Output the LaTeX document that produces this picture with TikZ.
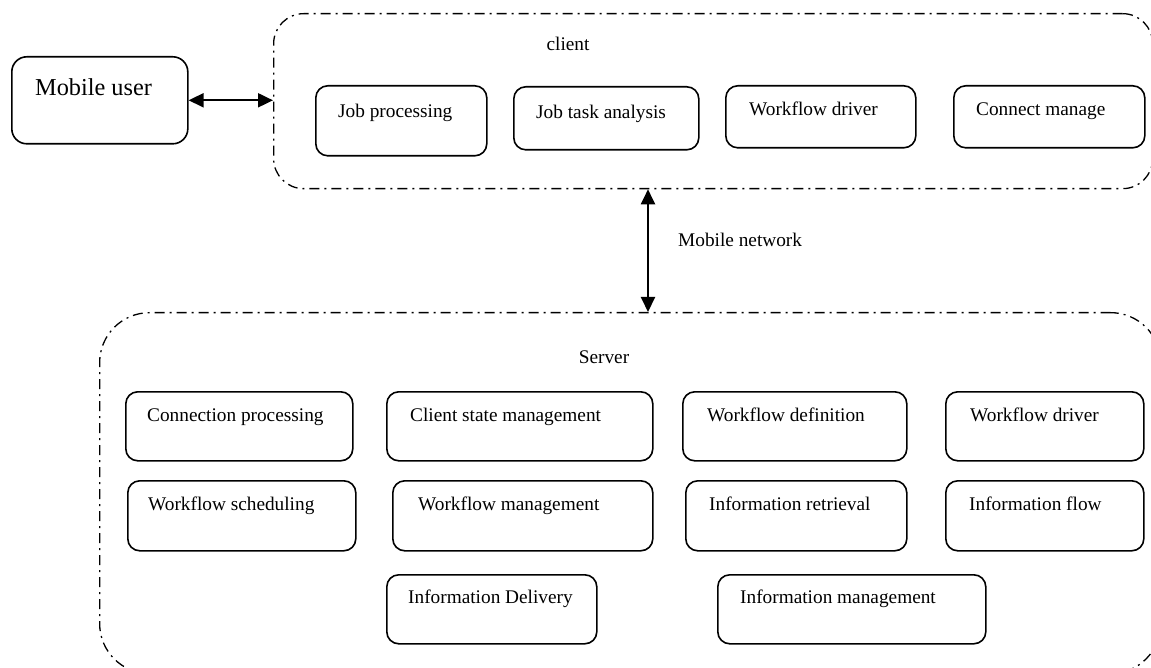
\documentclass[tikz,border=0pt]{standalone}
\usepackage{fontspec}
\setmainfont{Liberation Serif}
\usetikzlibrary{arrows.meta}

% module box: name, x, y, width, height, text dx, text baseline dy, text
\newcommand\modnode[8]{%
  \node[modbox, minimum width=#4pt, minimum height=#5pt] (#1) at (#2,#3) {};
  \node[lbl] (#1-t) at ([shift={(#6pt,-#7pt)}]#1.north west) {#8};
}

\begin{document}
\begin{tikzpicture}[x=1pt,y=-1pt,
  modbox/.style={draw, line width=1.6pt, rounded corners=12pt, inner sep=0pt, anchor=north west},
  groupbox/.style={draw, line width=1.3pt, rounded corners=#1,
    dash pattern=on 10pt off 5pt on 2pt off 5pt, inner sep=0pt, anchor=north west},
  lbl/.style={inner sep=0pt, anchor=base west, font=\fontsize{19.3}{23}\selectfont},
  link/.style={line width=2pt, {Triangle[length=15pt,width=14pt]}-{Triangle[length=15pt,width=14pt]}}
]
\useasboundingbox (0,0) rectangle (1151,668);
\clip (0,0) rectangle (1151,668);

% user
\node[modbox, rounded corners=15pt, minimum width=176pt, minimum height=87pt] (mu) at (11,56) {};
\node[lbl, font=\fontsize{24.3}{29}\selectfont] (mu-t) at ([shift={(24pt,-40pt)}]mu.north west) {Mobile user};

% client group
\node[groupbox=30pt, minimum width=879pt, minimum height=175pt] (client) at (273,13) {};
\node[lbl, anchor=base] (client-t) at (568,51) {client};

\modnode{jp}{315}{85}{171}{70}{23}{33}{Job processing}
\modnode{jta}{513}{86}{185}{63}{23}{33}{Job task analysis}
\modnode{cwd}{725}{85}{190}{62}{24}{31}{Workflow driver}
\modnode{cm}{953}{85}{191}{62}{23}{31}{Connect manage}

% server group
\node[groupbox=50pt, minimum width=1061pt, minimum height=361pt] (server) at (99,312) {};
\node[lbl, anchor=base] (server-t) at (604,363) {Server};

\modnode{cp}{125}{391}{227}{69}{22}{30}{Connection processing}
\modnode{csm}{386}{391}{266}{69}{24}{30}{Client state management}
\modnode{wdef}{682}{391}{224}{69}{25}{30}{Workflow definition}
\modnode{swd}{945}{391}{198}{69}{25}{30}{Workflow driver}
\modnode{ws}{127}{480}{228}{70}{21}{30}{Workflow scheduling}
\modnode{wm}{392}{480}{260}{70}{26}{30}{Workflow management}
\modnode{ir}{685}{480}{221}{70}{24}{30}{Information retrieval}
\modnode{ifl}{945}{480}{198}{70}{24}{30}{Information flow}
\modnode{idl}{386}{574}{210}{69}{22}{29}{Information Delivery}
\modnode{im}{717}{574}{268}{69}{23}{29}{Information management}

% connectors
\draw[link] (mu.east) -- (mu.east -| client.west);
\coordinate (netx) at (648,250);
\draw[link] (netx |- client.south) -- (netx |- server.north);
\node[lbl] (net-t) at (678,247) {Mobile network};
\end{tikzpicture}
\end{document}
